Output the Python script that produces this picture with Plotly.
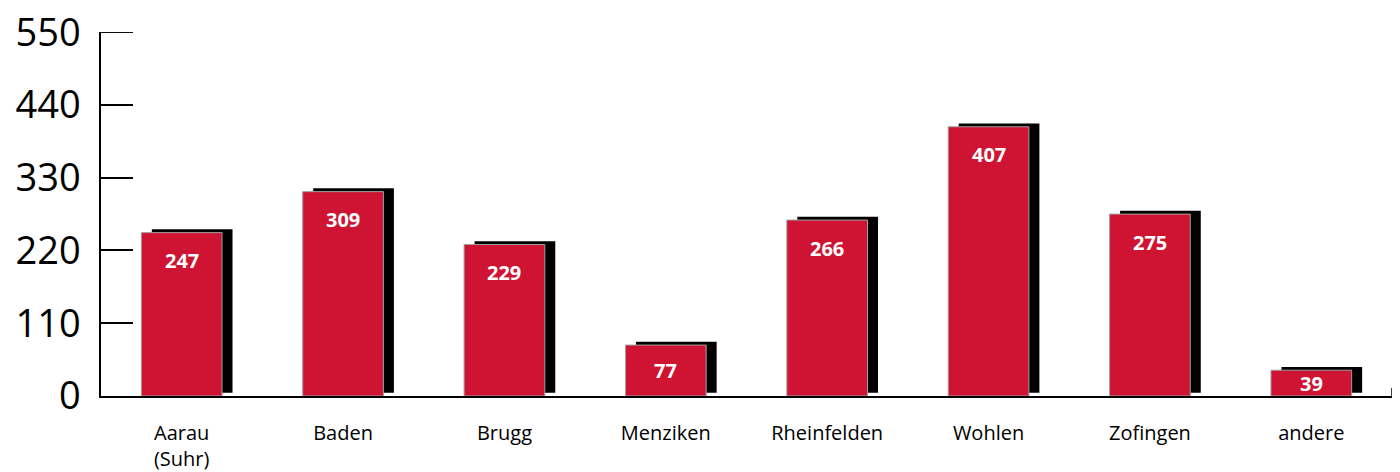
import plotly.graph_objects as go

categories = ["Aarau<br>(Suhr)", "Baden", "Brugg", "Menziken", "Rheinfelden", "Wohlen", "Zofingen", "andere"]
values = [247, 309, 229, 77, 266, 407, 275, 39]
y_ticks = [0, 110, 220, 330, 440, 550]

RED = "#CE1432"
FONT = "Open Sans"

fig = go.Figure()

# black drop shadow behind each bar
fig.add_trace(go.Bar(
    x=categories, y=values, base=[5] * len(values),
    width=0.5, offset=-0.185,
    marker=dict(color="black", line=dict(width=0)),
    hoverinfo="skip", showlegend=False,
))
# red bars
fig.add_trace(go.Bar(
    x=categories, y=values,
    width=0.5, offset=-0.25,
    marker=dict(color=RED, line=dict(color="#a0a0a0", width=1)),
    showlegend=False,
))

px_per_unit = 364 / 550
for c, v in zip(categories, values):
    shift = min(28, v * px_per_unit / 2)
    fig.add_annotation(
        x=c, y=v, yshift=-shift, yanchor="middle", xshift=0,
        text=f"<b>{v}</b>", showarrow=False,
        font=dict(family=FONT, size=20, color="white"),
    )

# small closing tick at the right end of the x axis
fig.add_shape(type="line", xref="paper", yref="y", x0=1, x1=1, y0=0, y1=12,
              line=dict(color="black", width=1.5))
# top tick at the end of the y axis (plotly hides inside ticks at the axis ends)
fig.add_shape(type="line", xref="paper", yref="y", x0=0, x1=32 / 1291,
              y0=y_ticks[-1], y1=y_ticks[-1], line=dict(color="black", width=1.5))

fig.update_layout(
    width=1392, height=464,
    margin=dict(l=93, r=8, t=24, b=76),
    paper_bgcolor="white", plot_bgcolor="white",
    barmode="overlay",
    font=dict(family=FONT, color="black"),
)
fig.update_xaxes(
    range=[-0.5, 7.5], showline=True, linecolor="black", linewidth=1.5,
    ticks="", showgrid=False, tickfont=dict(size=20, family=FONT, color="black"),
    ticklabelstandoff=18, automargin=False,
)
fig.update_yaxes(
    range=[0, 550.3], tickvals=y_ticks, showline=True, linecolor="black", linewidth=1.5,
    ticks="inside", ticklen=32, tickwidth=1.5, tickcolor="black",
    showgrid=False, zeroline=False,
    tickfont=dict(size=38, family=FONT, color="black"),
    ticklabelstandoff=11, automargin=False, ticklabeloverflow="allow",
)

fig.write_html("out.html")
